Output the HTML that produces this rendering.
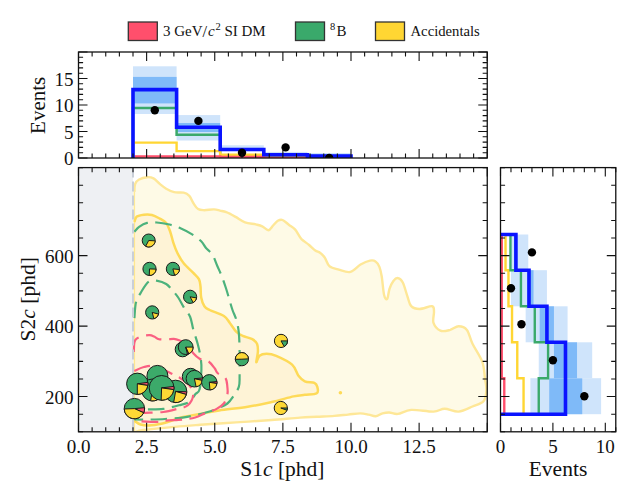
<!DOCTYPE html>
<html><head><meta charset="utf-8"><style>html,body{margin:0;padding:0;background:#fff;width:640px;height:502px;overflow:hidden}svg{display:block}</style></head>
<body><svg width="640" height="502" viewBox="0 0 640 502" style="font-family:&quot;Liberation Serif&quot;, serif">
<rect width="640" height="502" fill="#fff"/>
<rect x="128.3" y="22" width="29" height="18.5" fill="#ff4f6c" stroke="#333" stroke-width="1.3"/>
<rect x="295.5" y="22" width="29" height="18.5" fill="#3aa96b" stroke="#333" stroke-width="1.3"/>
<rect x="375.5" y="22" width="29" height="18.5" fill="#ffd633" stroke="#333" stroke-width="1.3"/>
<text x="163" y="35.5" font-size="15" fill="#111">3 GeV<tspan font-size="16.5" dy="1.2">/</tspan><tspan font-style="italic" dy="-1.2" dx="0.8">c</tspan><tspan font-size="10.5" dy="-5.5" dx="0.8">2</tspan><tspan dy="5.5"> SI DM</tspan></text>
<text x="330" y="35.5" font-size="15" fill="#111"><tspan font-size="10.5" dy="-5.5">8</tspan><tspan dy="5.5" dx="1.2">B</tspan></text>
<text x="410.5" y="35.5" font-size="14.7" fill="#111">Accidentals</text>
<defs><clipPath id="ct"><rect x="78.5" y="52.0" width="408.75" height="106.0"/></clipPath>
<clipPath id="cm"><rect x="78.5" y="167.59749999999997" width="408.75" height="264.20250000000004"/></clipPath>
<clipPath id="cr"><rect x="500.5" y="167.59749999999997" width="115.27999999999997" height="264.20250000000004"/></clipPath></defs>
<g clip-path="url(#ct)">
<rect x="133.00" y="66.31" width="43.60" height="47.70" fill="#cfe4fb"/>
<rect x="133.00" y="76.91" width="43.60" height="26.50" fill="#7fbaf8"/>
<rect x="176.60" y="115.07" width="43.60" height="25.44" fill="#cfe4fb"/>
<rect x="176.60" y="123.02" width="43.60" height="9.01" fill="#7fbaf8"/>
<rect x="220.20" y="145.28" width="43.60" height="5.83" fill="#cfe4fb"/>
<rect x="220.20" y="147.93" width="43.60" height="2.12" fill="#7fbaf8"/>
<rect x="263.80" y="151.91" width="43.60" height="4.50" fill="#cfe4fb"/>
<rect x="263.80" y="153.76" width="43.60" height="1.59" fill="#7fbaf8"/>
<rect x="307.40" y="152.97" width="43.60" height="4.50" fill="#cfe4fb"/>
<rect x="307.40" y="154.29" width="43.60" height="2.65" fill="#7fbaf8"/>
<path d="M133.00 158.00L133.00 107.92L176.60 107.92L176.60 134.68L220.20 134.68L220.20 155.35L263.80 155.35L263.80 157.21L307.40 157.21L307.40 157.74L351.00 157.74L351.00 158.00" fill="none" stroke="#3aa96b" stroke-width="2.5"/>
<path d="M133.00 158.00L133.00 142.63L176.60 142.63L176.60 151.11L220.20 151.11L220.20 154.71L263.80 154.71L263.80 157.74L307.40 157.74L307.40 157.74L351.00 157.74L351.00 158.00" fill="none" stroke="#ffd633" stroke-width="2.4"/>
<path d="M133.00 158.00L133.00 156.52L176.60 156.52L176.60 156.52L220.20 156.52L220.20 156.83L263.80 156.83L263.80 157.84L307.40 157.84L307.40 157.89L351.00 157.89L351.00 158.00" fill="none" stroke="#ff4f6c" stroke-width="2.4"/>
<path d="M133.00 158.00L133.00 89.63L176.60 89.63L176.60 127.26L220.20 127.26L220.20 149.52L263.80 149.52L263.80 154.82L307.40 154.82L307.40 156.15L351.00 156.15L351.00 158.00" fill="none" stroke="#0a14ff" stroke-width="3.6"/>
<circle cx="154.80" cy="110.30" r="4.2" fill="#000"/>
<circle cx="198.40" cy="120.90" r="4.2" fill="#000"/>
<circle cx="242.00" cy="152.70" r="4.2" fill="#000"/>
<circle cx="285.60" cy="147.40" r="4.2" fill="#000"/>
<circle cx="329.20" cy="158.00" r="4.2" fill="#000"/>
</g>
<path d="M78.50 158.00v-9M78.50 52.00v9M92.12 158.00v-4.6M92.12 52.00v4.6M105.75 158.00v-4.6M105.75 52.00v4.6M119.38 158.00v-4.6M119.38 52.00v4.6M133.00 158.00v-4.6M133.00 52.00v4.6M146.62 158.00v-9M146.62 52.00v9M160.25 158.00v-4.6M160.25 52.00v4.6M173.88 158.00v-4.6M173.88 52.00v4.6M187.50 158.00v-4.6M187.50 52.00v4.6M201.12 158.00v-4.6M201.12 52.00v4.6M214.75 158.00v-9M214.75 52.00v9M228.38 158.00v-4.6M228.38 52.00v4.6M242.00 158.00v-4.6M242.00 52.00v4.6M255.62 158.00v-4.6M255.62 52.00v4.6M269.25 158.00v-4.6M269.25 52.00v4.6M282.88 158.00v-9M282.88 52.00v9M296.50 158.00v-4.6M296.50 52.00v4.6M310.12 158.00v-4.6M310.12 52.00v4.6M323.75 158.00v-4.6M323.75 52.00v4.6M337.38 158.00v-4.6M337.38 52.00v4.6M351.00 158.00v-9M351.00 52.00v9M364.62 158.00v-4.6M364.62 52.00v4.6M378.25 158.00v-4.6M378.25 52.00v4.6M391.88 158.00v-4.6M391.88 52.00v4.6M405.50 158.00v-4.6M405.50 52.00v4.6M419.12 158.00v-9M419.12 52.00v9M432.75 158.00v-4.6M432.75 52.00v4.6M446.38 158.00v-4.6M446.38 52.00v4.6M460.00 158.00v-4.6M460.00 52.00v4.6M473.62 158.00v-4.6M473.62 52.00v4.6M487.25 158.00v-9M487.25 52.00v9M78.50 158.00h9M487.25 158.00h-9M78.50 152.70h4.6M487.25 152.70h-4.6M78.50 147.40h4.6M487.25 147.40h-4.6M78.50 142.10h4.6M487.25 142.10h-4.6M78.50 136.80h4.6M487.25 136.80h-4.6M78.50 131.50h9M487.25 131.50h-9M78.50 126.20h4.6M487.25 126.20h-4.6M78.50 120.90h4.6M487.25 120.90h-4.6M78.50 115.60h4.6M487.25 115.60h-4.6M78.50 110.30h4.6M487.25 110.30h-4.6M78.50 105.00h9M487.25 105.00h-9M78.50 99.70h4.6M487.25 99.70h-4.6M78.50 94.40h4.6M487.25 94.40h-4.6M78.50 89.10h4.6M487.25 89.10h-4.6M78.50 83.80h4.6M487.25 83.80h-4.6M78.50 78.50h9M487.25 78.50h-9M78.50 73.20h4.6M487.25 73.20h-4.6M78.50 67.90h4.6M487.25 67.90h-4.6M78.50 62.60h4.6M487.25 62.60h-4.6M78.50 57.30h4.6M487.25 57.30h-4.6M78.50 52.00h9M487.25 52.00h-9" stroke="#111" stroke-width="1.1" fill="none"/>
<rect x="78.5" y="52.0" width="408.75" height="106.00" fill="none" stroke="#111" stroke-width="1.3"/>
<text x="73.5" y="165.40" font-size="19" text-anchor="end" fill="#111">0</text>
<text x="73.5" y="138.90" font-size="19" text-anchor="end" fill="#111">5</text>
<text x="73.5" y="112.40" font-size="19" text-anchor="end" fill="#111">10</text>
<text x="73.5" y="85.90" font-size="19" text-anchor="end" fill="#111">15</text>
<text transform="translate(44.6 105.3) rotate(-90)" font-size="21" text-anchor="middle" fill="#111">Events</text>
<g clip-path="url(#cm)">
<rect x="78.5" y="167.59749999999997" width="54.50" height="264.20" fill="#eef0f3"/>
<path d="M134.4 191.9C134.5 190.6 134.4 186.0 135.2 183.9C136.0 181.8 137.1 180.6 139.1 179.5C141.1 178.4 144.7 177.4 147.1 177.2C149.5 177.0 151.4 177.3 153.5 178.4C155.6 179.5 157.7 182.2 159.8 183.9C161.9 185.6 163.8 187.3 166.2 188.7C168.6 190.1 171.3 191.5 174.2 192.2C177.1 192.9 181.2 192.1 183.7 192.7C186.2 193.3 187.7 194.2 189.3 195.9C190.9 197.6 191.8 200.8 193.3 203.0C194.8 205.2 196.2 207.9 198.1 209.1C199.9 210.3 201.8 210.1 204.4 210.2C207.1 210.2 211.4 209.3 214.0 209.4C216.6 209.5 217.9 210.1 220.0 210.6C222.1 211.1 223.7 211.1 226.3 212.2C228.9 213.2 232.5 215.2 235.6 216.9C238.7 218.6 241.6 221.1 245.0 222.3C248.4 223.6 253.0 223.7 255.9 224.4C258.8 225.1 260.1 225.3 262.2 226.3C264.3 227.3 266.6 230.3 268.4 230.2C270.2 230.1 271.5 227.1 273.1 225.5C274.7 223.9 276.2 221.7 277.8 220.8C279.4 219.9 280.7 219.3 282.5 220.0C284.3 220.7 286.7 223.1 288.8 224.7C290.8 226.3 292.9 227.1 295.0 229.4C297.1 231.7 298.9 236.2 301.2 238.8C303.6 241.3 306.8 243.0 309.1 245.0C311.4 247.0 313.5 249.2 315.3 250.5C317.1 251.8 318.4 251.6 320.0 252.8C321.6 254.0 323.1 255.3 324.7 257.5C326.3 259.7 327.1 264.1 329.4 266.1C331.7 268.1 335.2 268.7 338.8 269.7C342.3 270.7 346.9 272.8 350.5 271.9C354.1 271.0 357.4 266.4 360.6 264.5C363.9 262.6 367.5 261.1 370.0 260.6C372.5 260.1 373.9 260.3 375.5 261.4C377.1 262.4 378.4 264.4 379.4 266.9C380.4 269.4 380.9 271.6 381.7 276.2C382.5 280.9 383.2 291.2 384.1 295.0C385.0 298.8 386.3 299.9 387.2 298.9C388.1 297.9 388.5 291.8 389.5 288.8C390.5 285.8 392.0 282.7 393.4 280.9C394.8 279.1 396.5 277.8 398.1 278.1C399.7 278.4 401.2 279.4 402.8 282.5C404.4 285.6 406.1 292.7 407.5 296.6C408.9 300.6 409.2 304.1 411.2 306.2C413.2 308.3 416.0 309.0 419.5 309.0C423.0 309.0 429.7 305.8 432.1 306.2C434.5 306.6 433.8 308.9 434.0 311.7C434.2 314.5 432.4 319.7 433.5 322.9C434.6 326.1 437.6 329.5 440.4 330.7C443.2 331.9 447.2 330.6 450.2 329.9C453.2 329.1 455.8 326.2 458.6 326.2C461.4 326.2 464.6 327.0 466.9 329.9C469.2 332.8 469.9 338.5 472.5 343.8C475.1 349.1 480.2 356.1 482.3 361.9C484.4 367.7 484.3 374.0 485.0 378.7C485.7 383.4 486.6 386.1 486.4 389.8C486.2 393.5 486.0 398.2 483.7 401.0C481.4 403.8 476.7 404.7 472.5 406.5C468.3 408.3 463.2 411.2 458.6 411.6C454.0 412.0 448.8 408.8 444.6 408.8C440.4 408.8 439.1 411.4 433.5 411.6C427.9 411.8 417.1 409.5 411.2 409.9C405.3 410.3 401.5 413.5 397.9 413.9C394.2 414.3 391.9 412.6 389.3 412.5C386.7 412.4 384.8 412.8 382.5 413.4C380.2 414.0 377.9 416.1 375.6 416.3C373.3 416.5 371.3 415.1 368.7 414.6C366.1 414.1 363.5 413.4 360.1 413.4C356.7 413.4 352.4 414.2 348.1 414.6C343.8 415.0 339.5 415.5 334.4 415.9C329.2 416.3 322.9 416.5 317.2 416.8C311.5 417.1 307.6 417.1 300.0 417.6C292.4 418.1 282.4 419.2 271.7 420.0C261.0 420.8 247.8 421.6 235.9 422.4C224.0 423.2 210.2 424.1 200.0 424.8C189.8 425.6 184.3 426.0 174.9 426.9C165.5 427.8 150.4 429.1 143.6 430.0C136.8 430.9 135.9 432.1 134.3 432.5L134 432V190Z" fill="#fefae6"/>
<path d="M134.4 222.1C134.8 221.2 135.2 217.8 136.8 216.6C138.4 215.4 141.4 215.0 143.9 214.7C146.4 214.4 149.2 214.3 151.9 215.0C154.6 215.7 157.4 217.3 159.8 218.6C162.2 219.9 164.5 220.7 166.2 222.9C167.9 225.1 169.0 228.4 170.2 231.7C171.4 235.0 172.2 239.2 173.4 242.8C174.6 246.4 175.7 249.6 177.4 253.0C179.1 256.4 181.0 260.0 183.7 263.3C186.3 266.6 190.8 270.2 193.3 272.9C195.8 275.5 197.7 276.9 198.9 279.2C200.1 281.4 200.1 283.3 200.5 286.4C200.9 289.4 200.5 294.2 201.2 297.5C201.8 300.8 203.0 304.2 204.4 306.3C205.8 308.4 206.3 308.4 209.6 310.0C212.8 311.6 220.5 313.8 223.9 316.0C227.3 318.2 227.9 320.6 230.0 323.2C232.1 325.8 234.3 329.8 236.4 331.9C238.5 334.0 240.0 334.7 242.7 335.9C245.3 337.1 249.9 337.8 252.3 339.1C254.7 340.4 256.2 341.8 257.1 343.9C258.0 346.0 258.0 348.8 257.9 351.8C257.8 354.9 256.0 361.5 256.3 362.2C256.6 362.9 257.8 357.2 259.5 355.8C261.2 354.4 263.8 353.8 266.6 353.8C269.4 353.8 271.9 354.0 276.2 355.8C280.4 357.6 288.4 361.3 292.1 364.6C295.8 367.9 296.4 372.9 298.5 375.7C300.6 378.5 302.2 380.1 304.8 381.3C307.4 382.5 312.3 382.0 314.4 382.9C316.5 383.8 316.9 385.2 317.3 386.9C317.7 388.6 318.9 391.9 316.8 393.2C314.7 394.5 308.7 394.3 304.8 394.8C300.9 395.3 299.2 395.2 293.7 396.4C288.2 397.6 279.3 400.3 271.7 402.0C264.1 403.7 256.6 405.4 247.8 406.8C239.0 408.2 227.1 409.2 219.1 410.4C211.1 411.6 206.3 412.8 200.0 414.0C193.7 415.2 186.6 416.1 181.1 417.5C175.6 418.9 172.0 420.9 167.1 422.2C162.2 423.5 155.8 424.9 151.4 425.3C147.0 425.7 143.3 425.3 140.5 424.5C137.7 423.7 135.3 421.2 134.3 420.6L134 420V222Z" fill="#fef3d6"/>
<path d="M134.4 191.9C134.5 190.6 134.4 186.0 135.2 183.9C136.0 181.8 137.1 180.6 139.1 179.5C141.1 178.4 144.7 177.4 147.1 177.2C149.5 177.0 151.4 177.3 153.5 178.4C155.6 179.5 157.7 182.2 159.8 183.9C161.9 185.6 163.8 187.3 166.2 188.7C168.6 190.1 171.3 191.5 174.2 192.2C177.1 192.9 181.2 192.1 183.7 192.7C186.2 193.3 187.7 194.2 189.3 195.9C190.9 197.6 191.8 200.8 193.3 203.0C194.8 205.2 196.2 207.9 198.1 209.1C199.9 210.3 201.8 210.1 204.4 210.2C207.1 210.2 211.4 209.3 214.0 209.4C216.6 209.5 217.9 210.1 220.0 210.6C222.1 211.1 223.7 211.1 226.3 212.2C228.9 213.2 232.5 215.2 235.6 216.9C238.7 218.6 241.6 221.1 245.0 222.3C248.4 223.6 253.0 223.7 255.9 224.4C258.8 225.1 260.1 225.3 262.2 226.3C264.3 227.3 266.6 230.3 268.4 230.2C270.2 230.1 271.5 227.1 273.1 225.5C274.7 223.9 276.2 221.7 277.8 220.8C279.4 219.9 280.7 219.3 282.5 220.0C284.3 220.7 286.7 223.1 288.8 224.7C290.8 226.3 292.9 227.1 295.0 229.4C297.1 231.7 298.9 236.2 301.2 238.8C303.6 241.3 306.8 243.0 309.1 245.0C311.4 247.0 313.5 249.2 315.3 250.5C317.1 251.8 318.4 251.6 320.0 252.8C321.6 254.0 323.1 255.3 324.7 257.5C326.3 259.7 327.1 264.1 329.4 266.1C331.7 268.1 335.2 268.7 338.8 269.7C342.3 270.7 346.9 272.8 350.5 271.9C354.1 271.0 357.4 266.4 360.6 264.5C363.9 262.6 367.5 261.1 370.0 260.6C372.5 260.1 373.9 260.3 375.5 261.4C377.1 262.4 378.4 264.4 379.4 266.9C380.4 269.4 380.9 271.6 381.7 276.2C382.5 280.9 383.2 291.2 384.1 295.0C385.0 298.8 386.3 299.9 387.2 298.9C388.1 297.9 388.5 291.8 389.5 288.8C390.5 285.8 392.0 282.7 393.4 280.9C394.8 279.1 396.5 277.8 398.1 278.1C399.7 278.4 401.2 279.4 402.8 282.5C404.4 285.6 406.1 292.7 407.5 296.6C408.9 300.6 409.2 304.1 411.2 306.2C413.2 308.3 416.0 309.0 419.5 309.0C423.0 309.0 429.7 305.8 432.1 306.2C434.5 306.6 433.8 308.9 434.0 311.7C434.2 314.5 432.4 319.7 433.5 322.9C434.6 326.1 437.6 329.5 440.4 330.7C443.2 331.9 447.2 330.6 450.2 329.9C453.2 329.1 455.8 326.2 458.6 326.2C461.4 326.2 464.6 327.0 466.9 329.9C469.2 332.8 469.9 338.5 472.5 343.8C475.1 349.1 480.2 356.1 482.3 361.9C484.4 367.7 484.3 374.0 485.0 378.7C485.7 383.4 486.6 386.1 486.4 389.8C486.2 393.5 486.0 398.2 483.7 401.0C481.4 403.8 476.7 404.7 472.5 406.5C468.3 408.3 463.2 411.2 458.6 411.6C454.0 412.0 448.8 408.8 444.6 408.8C440.4 408.8 439.1 411.4 433.5 411.6C427.9 411.8 417.1 409.5 411.2 409.9C405.3 410.3 401.5 413.5 397.9 413.9C394.2 414.3 391.9 412.6 389.3 412.5C386.7 412.4 384.8 412.8 382.5 413.4C380.2 414.0 377.9 416.1 375.6 416.3C373.3 416.5 371.3 415.1 368.7 414.6C366.1 414.1 363.5 413.4 360.1 413.4C356.7 413.4 352.4 414.2 348.1 414.6C343.8 415.0 339.5 415.5 334.4 415.9C329.2 416.3 322.9 416.5 317.2 416.8C311.5 417.1 307.6 417.1 300.0 417.6C292.4 418.1 282.4 419.2 271.7 420.0C261.0 420.8 247.8 421.6 235.9 422.4C224.0 423.2 210.2 424.1 200.0 424.8C189.8 425.6 184.3 426.0 174.9 426.9C165.5 427.8 150.4 429.1 143.6 430.0C136.8 430.9 135.9 432.1 134.3 432.5" fill="none" stroke="#fee797" stroke-width="2.4" stroke-linejoin="round"/>
<path d="M134.4 222.1C134.8 221.2 135.2 217.8 136.8 216.6C138.4 215.4 141.4 215.0 143.9 214.7C146.4 214.4 149.2 214.3 151.9 215.0C154.6 215.7 157.4 217.3 159.8 218.6C162.2 219.9 164.5 220.7 166.2 222.9C167.9 225.1 169.0 228.4 170.2 231.7C171.4 235.0 172.2 239.2 173.4 242.8C174.6 246.4 175.7 249.6 177.4 253.0C179.1 256.4 181.0 260.0 183.7 263.3C186.3 266.6 190.8 270.2 193.3 272.9C195.8 275.5 197.7 276.9 198.9 279.2C200.1 281.4 200.1 283.3 200.5 286.4C200.9 289.4 200.5 294.2 201.2 297.5C201.8 300.8 203.0 304.2 204.4 306.3C205.8 308.4 206.3 308.4 209.6 310.0C212.8 311.6 220.5 313.8 223.9 316.0C227.3 318.2 227.9 320.6 230.0 323.2C232.1 325.8 234.3 329.8 236.4 331.9C238.5 334.0 240.0 334.7 242.7 335.9C245.3 337.1 249.9 337.8 252.3 339.1C254.7 340.4 256.2 341.8 257.1 343.9C258.0 346.0 258.0 348.8 257.9 351.8C257.8 354.9 256.0 361.5 256.3 362.2C256.6 362.9 257.8 357.2 259.5 355.8C261.2 354.4 263.8 353.8 266.6 353.8C269.4 353.8 271.9 354.0 276.2 355.8C280.4 357.6 288.4 361.3 292.1 364.6C295.8 367.9 296.4 372.9 298.5 375.7C300.6 378.5 302.2 380.1 304.8 381.3C307.4 382.5 312.3 382.0 314.4 382.9C316.5 383.8 316.9 385.2 317.3 386.9C317.7 388.6 318.9 391.9 316.8 393.2C314.7 394.5 308.7 394.3 304.8 394.8C300.9 395.3 299.2 395.2 293.7 396.4C288.2 397.6 279.3 400.3 271.7 402.0C264.1 403.7 256.6 405.4 247.8 406.8C239.0 408.2 227.1 409.2 219.1 410.4C211.1 411.6 206.3 412.8 200.0 414.0C193.7 415.2 186.6 416.1 181.1 417.5C175.6 418.9 172.0 420.9 167.1 422.2C162.2 423.5 155.8 424.9 151.4 425.3C147.0 425.7 143.3 425.3 140.5 424.5C137.7 423.7 135.3 421.2 134.3 420.6" fill="none" stroke="#feda58" stroke-width="2.5" stroke-linejoin="round"/>
<path d="M134.3 192V432M134.3 222V420" stroke="#feda58" stroke-width="1.6" opacity="0.55"/>
<circle cx="340.4" cy="392.7" r="1.8" fill="#feda58"/>
<path d="M134.4 231.7C135.2 230.9 137.0 228.4 139.1 226.9C141.2 225.4 144.2 223.6 147.1 222.9C150.0 222.2 153.0 222.2 156.7 222.5C160.4 222.8 165.4 223.6 169.4 224.5C173.4 225.4 176.8 226.6 180.5 228.2C184.2 229.8 188.2 231.9 191.7 234.1C195.1 236.3 198.8 239.0 201.2 241.3C203.6 243.6 204.1 245.8 206.0 248.0C207.9 250.2 210.5 251.7 212.4 254.6C214.3 257.6 215.6 262.0 217.2 265.7C218.8 269.4 220.6 273.1 222.0 276.8C223.4 280.5 224.6 284.1 225.9 288.0C227.2 291.9 228.5 296.8 229.6 300.5C230.7 304.2 231.4 306.8 232.5 310.0C233.6 313.2 235.3 316.2 236.4 320.0C237.5 323.8 238.3 327.4 238.8 332.7C239.3 338.0 239.5 344.6 239.6 351.8C239.7 359.0 239.7 369.9 239.6 375.7C239.5 381.5 239.9 383.4 238.8 386.9C237.7 390.3 235.1 393.6 233.2 396.4C231.3 399.2 230.2 401.4 227.4 403.5C224.6 405.6 220.2 407.4 216.6 408.9C213.0 410.4 210.1 411.3 205.9 412.5C201.7 413.7 195.7 415.1 191.5 416.0C187.3 416.9 185.2 417.3 180.8 417.8C176.4 418.3 170.1 418.7 165.0 419.0C159.9 419.3 155.1 419.4 150.0 419.5C144.9 419.6 137.0 419.5 134.4 419.5" fill="none" stroke="#4cb27c" stroke-width="2.2" stroke-dasharray="16.5 7.5" stroke-linecap="butt"/>
<path d="M134.4 318.2C134.7 315.6 134.9 306.5 136.0 302.3C137.1 298.1 138.6 296.2 140.7 292.8C142.8 289.4 145.9 283.6 148.7 281.6C151.5 279.6 154.6 280.4 157.5 280.8C160.4 281.2 163.8 282.5 166.2 284.0C168.6 285.5 169.8 287.4 171.8 289.6C173.8 291.9 176.2 294.6 178.2 297.5C180.2 300.4 181.7 303.9 183.7 307.1C185.7 310.3 188.5 312.9 190.1 316.7C191.7 320.4 192.0 325.0 193.3 329.6C194.6 334.2 196.6 339.8 197.8 344.3C199.0 348.9 199.9 352.7 200.5 356.9C201.1 361.1 201.6 364.0 201.4 369.4C201.2 374.8 200.7 385.0 199.6 389.2C198.5 393.4 196.8 392.4 195.1 394.5C193.4 396.6 192.4 399.9 189.7 401.7C187.0 403.5 183.4 404.1 179.0 405.3C174.6 406.5 168.6 408.2 163.2 408.9C157.8 409.6 151.6 409.3 146.8 409.5C142.0 409.7 136.5 409.9 134.4 410.0" fill="none" stroke="#4cb27c" stroke-width="2.2" stroke-dasharray="16.5 7.5" stroke-linecap="butt"/>
<path d="M133.8 352.0C133.9 350.4 133.9 344.7 134.4 342.5C134.9 340.3 135.2 339.8 136.6 338.7C138.0 337.6 140.9 336.5 143.1 335.9C145.3 335.3 147.9 335.0 149.7 335.1C151.5 335.2 152.5 335.8 154.1 336.5C155.7 337.2 156.8 338.7 159.0 339.2C161.2 339.7 164.7 339.4 167.2 339.4C169.7 339.3 171.8 338.8 173.8 338.9C175.8 339.0 177.0 339.4 179.2 340.3C181.4 341.2 184.8 342.3 187.2 344.5C189.5 346.7 191.2 350.9 193.3 353.3C195.4 355.7 197.1 357.4 199.6 358.7C202.1 360.0 206.0 359.8 208.5 361.4C211.0 363.0 213.3 366.6 214.8 368.5C216.3 370.4 215.7 371.4 217.5 373.0C219.3 374.6 223.9 376.0 225.6 378.4C227.2 380.8 227.1 384.7 227.4 387.4C227.7 390.1 228.0 391.8 227.4 394.5C226.8 397.2 225.6 401.1 223.8 403.5C222.0 405.9 219.6 407.3 216.6 408.9C213.6 410.5 209.5 411.6 205.9 413.0C202.3 414.4 199.1 416.4 195.2 417.5C191.3 418.6 187.6 419.0 182.7 419.5C177.8 420.0 169.8 420.2 165.5 420.6C161.2 421.0 161.8 421.8 156.9 421.9C152.0 422.0 139.3 421.1 135.8 421.0" fill="none" stroke="#fa6082" stroke-width="2.2" stroke-dasharray="16.5 7.5" stroke-linecap="butt"/>
<path d="M134.4 371.0C136.0 370.3 140.3 367.8 143.9 367.0C147.5 366.2 151.8 365.1 156.0 366.0C160.2 366.9 165.4 370.5 169.4 372.5C173.4 374.5 176.7 375.9 180.0 378.0C183.3 380.1 186.8 382.2 189.0 385.0C191.2 387.8 193.5 391.1 193.3 394.5C193.1 397.9 190.6 402.9 187.9 405.3C185.2 407.7 181.3 407.8 177.2 408.9C173.1 410.0 168.5 411.4 163.2 412.0C157.9 412.6 150.0 412.6 145.2 412.8C140.4 413.0 136.2 413.0 134.4 413.0" fill="none" stroke="#fa6082" stroke-width="2.2" stroke-dasharray="16.5 7.5" stroke-linecap="butt"/>
<line x1="133.00" y1="167.59749999999997" x2="133.00" y2="431.8" stroke="#c9cfd8" stroke-width="2" stroke-dasharray="10 4"/>
<g stroke="#1a1a1a" stroke-width="1" stroke-linejoin="round"><circle cx="148.7" cy="240.5" r="6.5" fill="#3caa6a"/><path d="M148.7 240.5L155.19 240.84A6.5 6.5 0 0 1 145.65 246.24Z" fill="#fdd835"/></g>
<g stroke="#1a1a1a" stroke-width="1" stroke-linejoin="round"><circle cx="149.5" cy="268.9" r="6.6" fill="#3caa6a"/><path d="M149.5 268.9L156.10 269.13A6.6 6.6 0 0 1 149.27 275.50Z" fill="#fdd835"/></g>
<g stroke="#1a1a1a" stroke-width="1" stroke-linejoin="round"><circle cx="172.9" cy="268.9" r="6.6" fill="#3caa6a"/><path d="M172.9 268.9L179.47 269.48A6.6 6.6 0 0 1 174.61 275.28Z" fill="#fdd835"/></g>
<g stroke="#1a1a1a" stroke-width="1" stroke-linejoin="round"><circle cx="190.1" cy="296.8" r="6.6" fill="#3caa6a"/><path d="M190.1 296.8L196.60 297.95A6.6 6.6 0 0 1 193.20 302.63Z" fill="#fdd835"/></g>
<g stroke="#1a1a1a" stroke-width="1" stroke-linejoin="round"><circle cx="152.2" cy="312.4" r="6.6" fill="#3caa6a"/><path d="M152.2 312.4L158.58 314.11A6.6 6.6 0 0 1 153.91 318.78Z" fill="#fdd835"/></g>
<g stroke="#1a1a1a" stroke-width="1" stroke-linejoin="round"><circle cx="182.6" cy="349.4" r="7.4" fill="#3caa6a"/></g>
<g stroke="#1a1a1a" stroke-width="1" stroke-linejoin="round"><circle cx="185.7" cy="347.1" r="7.4" fill="#3caa6a"/><path d="M185.7 347.1L193.10 347.10A7.4 7.4 0 0 1 188.71 353.86Z" fill="#fdd835"/><path d="M185.7 347.1L188.71 353.86A7.4 7.4 0 0 1 187.49 354.28Z" fill="#f5536e"/></g>
<g stroke="#1a1a1a" stroke-width="1" stroke-linejoin="round"><circle cx="241.9" cy="359.2" r="6.6" fill="#3caa6a"/><path d="M241.9 359.2L248.49 358.85A6.6 6.6 0 0 0 235.30 359.32Z" fill="#fdd835"/></g>
<g stroke="#1a1a1a" stroke-width="1" stroke-linejoin="round"><circle cx="281" cy="340.9" r="6.6" fill="#fdd835"/><path d="M281 340.9L287.60 340.90A6.6 6.6 0 0 1 284.30 346.62Z" fill="#3caa6a"/></g>
<g stroke="#1a1a1a" stroke-width="1" stroke-linejoin="round"><circle cx="280.8" cy="408" r="6.6" fill="#fdd835"/><path d="M280.8 408L287.40 408.00A6.6 6.6 0 0 1 287.00 410.26Z" fill="#3caa6a"/></g>
<g stroke="#1a1a1a" stroke-width="1" stroke-linejoin="round"><circle cx="190.6" cy="376.6" r="8.3" fill="#3caa6a"/></g>
<g stroke="#1a1a1a" stroke-width="1" stroke-linejoin="round"><circle cx="194.4" cy="378.7" r="8.3" fill="#3caa6a"/><path d="M194.4 378.7L202.67 377.98A8.3 8.3 0 0 1 202.52 380.43Z" fill="#f5536e"/><path d="M194.4 378.7L202.52 380.43A8.3 8.3 0 0 1 196.13 386.82Z" fill="#fdd835"/></g>
<g stroke="#1a1a1a" stroke-width="1" stroke-linejoin="round"><circle cx="209.3" cy="382.3" r="7.7" fill="#3caa6a"/><path d="M209.3 382.3L216.96 381.50A7.7 7.7 0 0 1 216.91 383.50Z" fill="#f5536e"/><path d="M209.3 382.3L216.91 383.50A7.7 7.7 0 0 1 209.97 389.97Z" fill="#fdd835"/></g>
<g stroke="#1a1a1a" stroke-width="1" stroke-linejoin="round"><circle cx="157.4" cy="375.9" r="10.5" fill="#3caa6a"/></g>
<g stroke="#1a1a1a" stroke-width="1" stroke-linejoin="round"><circle cx="152.5" cy="390" r="11" fill="#3caa6a"/><path d="M152.5 390L158.81 399.01A11 11 0 0 1 150.59 400.83Z" fill="#fdd835"/></g>
<g stroke="#1a1a1a" stroke-width="1" stroke-linejoin="round"><circle cx="137.3" cy="383.8" r="10.7" fill="#3caa6a"/><path d="M137.3 383.8L147.90 382.31A10.7 10.7 0 0 1 147.87 385.47Z" fill="#f5536e"/><path d="M137.3 383.8L147.87 385.47A10.7 10.7 0 0 1 137.30 394.50Z" fill="#fdd835"/></g>
<g stroke="#1a1a1a" stroke-width="1" stroke-linejoin="round"><circle cx="175.6" cy="391.4" r="11.2" fill="#3caa6a"/><path d="M175.6 391.4L186.79 391.79A11.2 11.2 0 0 1 186.37 394.49Z" fill="#f5536e"/><path d="M175.6 391.4L186.37 394.49A11.2 11.2 0 0 1 173.66 402.43Z" fill="#fdd835"/></g>
<g stroke="#1a1a1a" stroke-width="1" stroke-linejoin="round"><circle cx="161.6" cy="387.9" r="12.4" fill="#3caa6a"/><path d="M161.6 387.9L173.91 386.39A12.4 12.4 0 0 1 173.88 389.63Z" fill="#f5536e"/><path d="M161.6 387.9L173.88 389.63A12.4 12.4 0 0 1 161.17 400.29Z" fill="#fdd835"/></g>
<g stroke="#1a1a1a" stroke-width="1" stroke-linejoin="round"><circle cx="134.4" cy="408.6" r="10.2" fill="#3caa6a"/><path d="M134.4 408.6L144.56 407.71A10.2 10.2 0 0 1 143.72 412.75Z" fill="#f5536e"/><path d="M134.4 408.6L143.72 412.75A10.2 10.2 0 0 1 124.21 408.96Z" fill="#fdd835"/></g>
</g>
<path d="M78.50 431.80v-9M78.50 167.60v9M92.12 431.80v-4.6M92.12 167.60v4.6M105.75 431.80v-4.6M105.75 167.60v4.6M119.38 431.80v-4.6M119.38 167.60v4.6M133.00 431.80v-4.6M133.00 167.60v4.6M146.62 431.80v-9M146.62 167.60v9M160.25 431.80v-4.6M160.25 167.60v4.6M173.88 431.80v-4.6M173.88 167.60v4.6M187.50 431.80v-4.6M187.50 167.60v4.6M201.12 431.80v-4.6M201.12 167.60v4.6M214.75 431.80v-9M214.75 167.60v9M228.38 431.80v-4.6M228.38 167.60v4.6M242.00 431.80v-4.6M242.00 167.60v4.6M255.62 431.80v-4.6M255.62 167.60v4.6M269.25 431.80v-4.6M269.25 167.60v4.6M282.88 431.80v-9M282.88 167.60v9M296.50 431.80v-4.6M296.50 167.60v4.6M310.12 431.80v-4.6M310.12 167.60v4.6M323.75 431.80v-4.6M323.75 167.60v4.6M337.38 431.80v-4.6M337.38 167.60v4.6M351.00 431.80v-9M351.00 167.60v9M364.62 431.80v-4.6M364.62 167.60v4.6M378.25 431.80v-4.6M378.25 167.60v4.6M391.88 431.80v-4.6M391.88 167.60v4.6M405.50 431.80v-4.6M405.50 167.60v4.6M419.12 431.80v-9M419.12 167.60v9M432.75 431.80v-4.6M432.75 167.60v4.6M446.38 431.80v-4.6M446.38 167.60v4.6M460.00 431.80v-4.6M460.00 167.60v4.6M473.62 431.80v-4.6M473.62 167.60v4.6M487.25 431.80v-9M487.25 167.60v9M78.50 431.80h4.6M487.25 431.80h-4.6M78.50 414.19h4.6M487.25 414.19h-4.6M78.50 396.57h9M487.25 396.57h-9M78.50 378.96h4.6M487.25 378.96h-4.6M78.50 361.35h4.6M487.25 361.35h-4.6M78.50 343.73h4.6M487.25 343.73h-4.6M78.50 326.12h9M487.25 326.12h-9M78.50 308.51h4.6M487.25 308.51h-4.6M78.50 290.89h4.6M487.25 290.89h-4.6M78.50 273.28h4.6M487.25 273.28h-4.6M78.50 255.66h9M487.25 255.66h-9M78.50 238.05h4.6M487.25 238.05h-4.6M78.50 220.44h4.6M487.25 220.44h-4.6M78.50 202.82h4.6M487.25 202.82h-4.6M78.50 185.21h4.6M487.25 185.21h-4.6M78.50 167.60h4.6M487.25 167.60h-4.6" stroke="#111" stroke-width="1.1" fill="none"/>
<rect x="78.5" y="167.59749999999997" width="408.75" height="264.20" fill="none" stroke="#111" stroke-width="1.3"/>
<text x="73.5" y="403.77" font-size="19" text-anchor="end" fill="#111">200</text>
<text x="73.5" y="333.32" font-size="19" text-anchor="end" fill="#111">400</text>
<text x="73.5" y="262.87" font-size="19" text-anchor="end" fill="#111">600</text>
<text x="78.50" y="453" font-size="19" text-anchor="middle" fill="#111">0.0</text>
<text x="146.62" y="453" font-size="19" text-anchor="middle" fill="#111">2.5</text>
<text x="214.75" y="453" font-size="19" text-anchor="middle" fill="#111">5.0</text>
<text x="282.88" y="453" font-size="19" text-anchor="middle" fill="#111">7.5</text>
<text x="351.00" y="453" font-size="19" text-anchor="middle" fill="#111">10.0</text>
<text x="419.12" y="453" font-size="19" text-anchor="middle" fill="#111">12.5</text>
<text x="282.4" y="476.2" font-size="21.5" text-anchor="middle" fill="#111">S1<tspan font-style="italic">c</tspan> [phd]</text>
<text transform="translate(35.4 299.3) rotate(-90)" font-size="21.5" text-anchor="middle" fill="#111">S2<tspan font-style="italic">c</tspan> [phd]</text>
<g clip-path="url(#cr)">
<rect x="530.37" y="378.2" width="70.74" height="36.00" fill="#cfe4fb"/>
<rect x="549.23" y="378.2" width="33.01" height="36.00" fill="#7fbaf8"/>
<rect x="538.75" y="342.3" width="53.45" height="35.90" fill="#cfe4fb"/>
<rect x="553.95" y="342.3" width="23.06" height="35.90" fill="#7fbaf8"/>
<rect x="525.65" y="306.3" width="41.92" height="36.00" fill="#cfe4fb"/>
<rect x="539.70" y="306.3" width="14.25" height="36.00" fill="#7fbaf8"/>
<rect x="510.98" y="270.2" width="35.95" height="36.10" fill="#cfe4fb"/>
<rect x="527.22" y="270.2" width="6.29" height="36.10" fill="#7fbaf8"/>
<rect x="510.98" y="234.5" width="17.29" height="35.70" fill="#cfe4fb"/>
<rect x="514.12" y="234.5" width="3.14" height="35.70" fill="#7fbaf8"/>
<path d="M500.50 414.2L504.27 414.2L504.27 378.2L501.76 378.2L501.76 342.3L501.76 342.3L501.76 306.3L501.76 306.3L501.76 270.2L501.76 270.2L501.76 234.5L500.50 234.5" fill="none" stroke="#ff4f6c" stroke-width="2.4"/>
<path d="M500.50 414.2L523.56 414.2L523.56 378.2L517.27 378.2L517.27 342.3L512.03 342.3L512.03 306.3L508.46 306.3L508.46 270.2L505.53 270.2L505.53 234.5L500.50 234.5" fill="none" stroke="#ffd633" stroke-width="2.4"/>
<path d="M500.50 414.2L538.75 414.2L538.75 378.2L548.08 378.2L548.08 342.3L534.77 342.3L534.77 306.3L520.94 306.3L520.94 270.2L510.46 270.2L510.46 234.5L500.50 234.5" fill="none" stroke="#3aa96b" stroke-width="2.4"/>
<path d="M500.50 414.2L565.48 414.2L565.48 378.2L565.48 378.2L565.48 342.3L546.93 342.3L546.93 306.3L529.01 306.3L529.01 270.2L515.91 270.2L515.91 234.5L500.50 234.5" fill="none" stroke="#0a14ff" stroke-width="3.6"/>
<circle cx="584.34" cy="396.2" r="4.2" fill="#000"/>
<circle cx="552.90" cy="360.2" r="4.2" fill="#000"/>
<circle cx="521.46" cy="324.3" r="4.2" fill="#000"/>
<circle cx="510.98" cy="288.3" r="4.2" fill="#000"/>
<circle cx="531.94" cy="252.4" r="4.2" fill="#000"/>
</g>
<path d="M500.50 431.80v-9M500.50 167.60v9M510.98 431.80v-4.6M510.98 167.60v4.6M521.46 431.80v-4.6M521.46 167.60v4.6M531.94 431.80v-4.6M531.94 167.60v4.6M542.42 431.80v-4.6M542.42 167.60v4.6M552.90 431.80v-9M552.90 167.60v9M563.38 431.80v-4.6M563.38 167.60v4.6M573.86 431.80v-4.6M573.86 167.60v4.6M584.34 431.80v-4.6M584.34 167.60v4.6M594.82 431.80v-4.6M594.82 167.60v4.6M605.30 431.80v-9M605.30 167.60v9M615.78 431.80v-4.6M615.78 167.60v4.6M500.50 431.80h4.6M615.78 431.80h-4.6M500.50 414.19h4.6M615.78 414.19h-4.6M500.50 396.57h9M615.78 396.57h-9M500.50 378.96h4.6M615.78 378.96h-4.6M500.50 361.35h4.6M615.78 361.35h-4.6M500.50 343.73h4.6M615.78 343.73h-4.6M500.50 326.12h9M615.78 326.12h-9M500.50 308.51h4.6M615.78 308.51h-4.6M500.50 290.89h4.6M615.78 290.89h-4.6M500.50 273.28h4.6M615.78 273.28h-4.6M500.50 255.66h9M615.78 255.66h-9M500.50 238.05h4.6M615.78 238.05h-4.6M500.50 220.44h4.6M615.78 220.44h-4.6M500.50 202.82h4.6M615.78 202.82h-4.6M500.50 185.21h4.6M615.78 185.21h-4.6M500.50 167.60h4.6M615.78 167.60h-4.6" stroke="#111" stroke-width="1.1" fill="none"/>
<rect x="500.5" y="167.59749999999997" width="115.28" height="264.20" fill="none" stroke="#111" stroke-width="1.3"/>
<text x="500.50" y="453" font-size="19" text-anchor="middle" fill="#111">0</text>
<text x="552.90" y="453" font-size="19" text-anchor="middle" fill="#111">5</text>
<text x="605.30" y="453" font-size="19" text-anchor="middle" fill="#111">10</text>
<text x="558" y="476.2" font-size="21.5" text-anchor="middle" fill="#111">Events</text>
</svg></body></html>
